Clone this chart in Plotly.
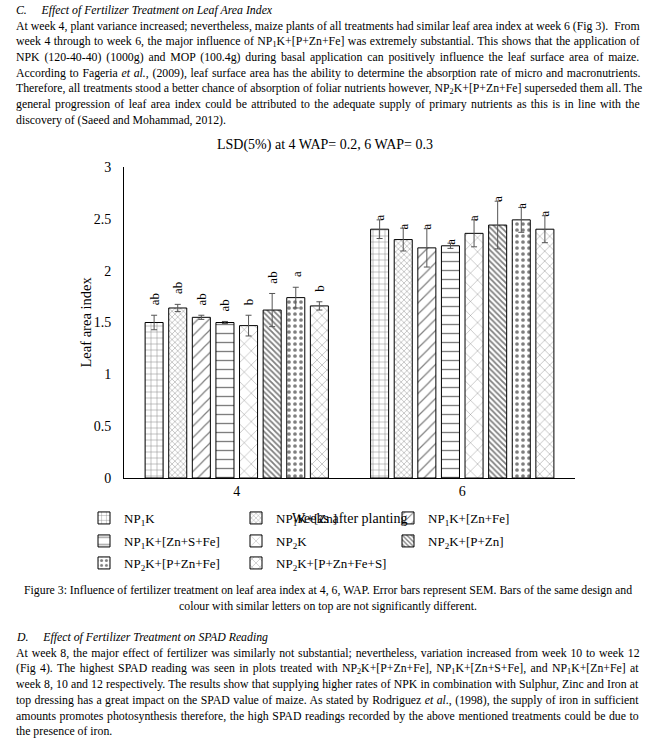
import re
import plotly.graph_objects as go

# ---------------- data ----------------
weeks = ["4", "6"]
treatments = [
    "NP<sub>1</sub>K", "NP<sub>1</sub>K+[Zn]", "NP<sub>1</sub>K+[Zn+Fe]",
    "NP<sub>1</sub>K+[Zn+S+Fe]", "NP<sub>2</sub>K", "NP<sub>2</sub>K+[P+Zn]",
    "NP<sub>2</sub>K+[P+Zn+Fe]", "NP<sub>2</sub>K+[P+Zn+Fe+S]",
]
lai_week4 = [1.50, 1.64, 1.55, 1.50, 1.47, 1.62, 1.74, 1.66]
lai_week6 = [2.40, 2.30, 2.22, 2.24, 2.36, 2.44, 2.49, 2.40]
sem_week4 = [0.07, 0.035, 0.02, 0.01, 0.10, 0.16, 0.10, 0.04]
sem_week6 = [0.09, 0.11, 0.185, 0.025, 0.13, 0.23, 0.12, 0.13]
letters_week4 = ["ab", "ab", "ab", "ab", "b", "ab", "a", "b"]
letters_week6 = ["a", "a", "a", "a", "a", "a", "a", "a"]
y_ticks = [0, 0.5, 1, 1.5, 2, 2.5, 3]

top_heading = "<i>C.\u00a0\u00a0\u00a0\u00a0\u00a0Effect of Fertilizer Treatment on Leaf Area Index</i>"
top_lines = [
    "At week 4, plant variance increased; nevertheless, maize plants of all treatments had similar leaf area index at week 6 (Fig 3).  From",
    "week 4 through to week 6, the major influence of NP<sub>1</sub>K+[P+Zn+Fe] was extremely substantial. This shows that the application of",
    "NPK (120-40-40) (1000g) and MOP (100.4g) during basal application can positively influence the leaf surface area of maize.",
    "According to Fageria <i>et al.</i>, (2009), leaf surface area has the ability to determine the absorption rate of micro and macronutrients.",
    "Therefore, all treatments stood a better chance of absorption of foliar nutrients however, NP<sub>2</sub>K+[P+Zn+Fe] superseded them all. The",
    "general progression of leaf area index could be attributed to the adequate supply of primary nutrients as this is in line with the",
    "discovery of (Saeed and Mohammad, 2012).",
]
caption_lines = [
    "Figure 3: Influence of fertilizer treatment on leaf area index at 4, 6, WAP. Error bars represent SEM. Bars of the same design and",
    "colour with similar letters on top are not significantly different.",
]
bottom_heading = "<i>D.\u00a0\u00a0\u00a0\u00a0\u00a0Effect of Fertilizer Treatment on SPAD Reading</i>"
bottom_lines = [
    "At week 8, the major effect of fertilizer was similarly not substantial; nevertheless, variation increased from week 10 to week 12",
    "(Fig 4). The highest SPAD reading was seen in plots treated with NP<sub>2</sub>K+[P+Zn+Fe], NP<sub>1</sub>K+[Zn+S+Fe], and NP<sub>1</sub>K+[Zn+Fe] at",
    "week 8, 10 and 12 respectively. The results show that supplying higher rates of NPK in combination with Sulphur, Zinc and Iron at",
    "top dressing has a great impact on the SPAD value of maize. As stated by Rodriguez <i>et al.</i>, (1998), the supply of iron in sufficient",
    "amounts promotes photosynthesis therefore, the high SPAD readings recorded by the above mentioned treatments could be due to",
    "the presence of iron.",
]

# ---------------- styles ----------------
FONT = "Liberation Serif, Times New Roman, serif"
TXT = 11.8
TEXT_LEFT, TEXT_WIDTH = 14, 624
patterns = [
    dict(shape="+", size=6, solidity=0.15),
    dict(shape="x", size=4, solidity=0.2),
    dict(shape="/", size=8, solidity=0.15),
    dict(shape="-", size=9, solidity=0.15),
    dict(shape="x", size=10, solidity=0.08),
    dict(shape="\\", size=4, solidity=0.45),
    dict(shape=".", size=6, solidity=0.3),
    dict(shape="x", size=7, solidity=0.12),
]
label_shift = [8, -3]
L, R, T, B = 124, 82, 167, 266
W, H = 657, 744
PW, PH = W - L - R, H - T - B
step = 0.1047
bar_w = 0.08
first_off = -4 * step + (step - bar_w) / 2

# Times-compatible advance widths (per 1000 em) used to justify text lines
_w = {' ': 250, '.': 250, ',': 250, ':': 278, ';': 278, '(': 333, ')': 333,
      '[': 333, ']': 333, '+': 564, '-': 333, '%': 833, '=': 564}
_w.update(dict(zip("abcdefghijklmnopqrstuvwxyz",
                   [444, 500, 444, 500, 444, 333, 500, 500, 278, 278, 500, 278, 778,
                    500, 500, 500, 500, 333, 389, 278, 500, 500, 722, 500, 500, 444])))
_w.update(dict(zip("ABCDEFGHIJKLMNOPQRSTUVWXYZ",
                   [722, 667, 667, 722, 611, 556, 722, 722, 333, 389, 722, 611, 889,
                    722, 722, 556, 722, 667, 556, 611, 722, 722, 944, 722, 722, 611])))
_w.update({d: 500 for d in "0123456789"})


def text_px(s, size):
    total = 0.0
    for part in re.split(r"(<sub>.*?</sub>)", s):
        scale = 0.7 if part.startswith("<sub>") else 1.0
        plain = re.sub(r"<[^>]+>", "", part)
        total += scale * sum(_w.get(c, 500) for c in plain)
    return total * size / 1000


def justify(s):
    n_sp = s.count(" ")
    ws = (TEXT_WIDTH - text_px(s, TXT)) / max(n_sp, 1)
    return '<span style="word-spacing:%.2fpx">%s</span>' % (max(ws, 0), s)


def px_x(px):
    return (px - L) / PW


def px_y(py):
    return (H - B - py) / PH


fig = go.Figure()
xpos = list(range(len(weeks)))
vals = [lai_week4, lai_week6]
sems = [sem_week4, sem_week6]
letters = [letters_week4, letters_week6]
legend_of = ["legend"] * 3 + ["legend2"] * 3 + ["legend3"] * 2

for i, name in enumerate(treatments):
    off = first_off + i * step
    fig.add_trace(go.Bar(
        x=xpos,
        y=[v[i] for v in vals],
        name=name,
        width=bar_w,
        offset=off,
        legend=legend_of[i],
        marker=dict(color="white", line=dict(color="black", width=1),
                    pattern=dict(fgcolor="black", bgcolor="white", **patterns[i])),
        error_y=dict(type="data", array=[s[i] for s in sems], color="#555555",
                     thickness=1, width=3),
    ))
    for j in xpos:
        fig.add_annotation(
            x=j + off + bar_w / 2, y=vals[j][i] + sems[j][i], xref="x", yref="y",
            text=letters[j][i], textangle=-90, showarrow=False,
            xanchor="center", yanchor="bottom", yshift=label_shift[j],
            font=dict(family=FONT, size=13, color="black"),
        )

# page text
line_h = 15.7


def add_line(text, py, xpx=TEXT_LEFT, anchor="left"):
    fig.add_annotation(x=px_x(xpx), y=px_y(py), xref="paper", yref="paper",
                       text=text, showarrow=False, xanchor=anchor, yanchor="middle",
                       font=dict(family=FONT, size=TXT, color="black"))


add_line(top_heading, 10)
for k, t in enumerate(top_lines):
    add_line(justify(t) if k < len(top_lines) - 1 else t, 10 + (k + 1) * line_h)
for k, t in enumerate(caption_lines):
    add_line(t, 590 + k * line_h, 328, "center")
add_line(bottom_heading, 637)
for k, t in enumerate(bottom_lines):
    add_line(justify(t) if k < len(bottom_lines) - 1 else t, 637 + (k + 1) * line_h)

# chart title, axis titles
fig.add_annotation(x=px_x(325), y=px_y(145), xref="paper", yref="paper",
                   text="LSD(5%) at 4 WAP= 0.2, 6 WAP= 0.3", showarrow=False,
                   xanchor="center", yanchor="middle",
                   font=dict(family=FONT, size=14, color="black"))
fig.add_annotation(x=px_x(85), y=0.5, xref="paper", yref="paper",
                   text="Leaf area index", textangle=-90, showarrow=False,
                   xanchor="center", yanchor="middle",
                   font=dict(family=FONT, size=14.5, color="black"))
fig.add_annotation(x=0.5, y=px_y(518), xref="paper", yref="paper",
                   text="Weeks after planting", showarrow=False,
                   xanchor="center", yanchor="middle",
                   font=dict(family=FONT, size=14, color="black"))

legend_style = dict(orientation="h", x=px_x(84), xanchor="left", yanchor="middle",
                    entrywidth=107, entrywidthmode="pixels", traceorder="normal",
                    font=dict(family=FONT, size=13, color="black"),
                    bgcolor="rgba(0,0,0,0)")

fig.update_layout(
    width=W, height=H,
    margin=dict(l=L, r=R, t=T, b=B, pad=0),
    paper_bgcolor="white", plot_bgcolor="white",
    barmode="group",
    showlegend=True,
    legend=dict(y=px_y(518), **legend_style),
    legend2=dict(y=px_y(541), **legend_style),
    legend3=dict(y=px_y(563), **legend_style),
    xaxis=dict(range=[-0.5, 1.5], tickvals=xpos, ticktext=weeks, showline=True,
               linecolor="black", linewidth=1, ticks="", showgrid=False, zeroline=False,
               tickfont=dict(family=FONT, size=14, color="black")),
    yaxis=dict(range=[0, 3], tickvals=y_ticks, showline=True, linecolor="black",
               linewidth=1, ticks="", showgrid=False, zeroline=False,
               ticklabelstandoff=9,
               tickfont=dict(family=FONT, size=14, color="black")),
)

fig.write_html("out.html", config={"displayModeBar": False},
               post_script="document.body.style.margin='0';")
